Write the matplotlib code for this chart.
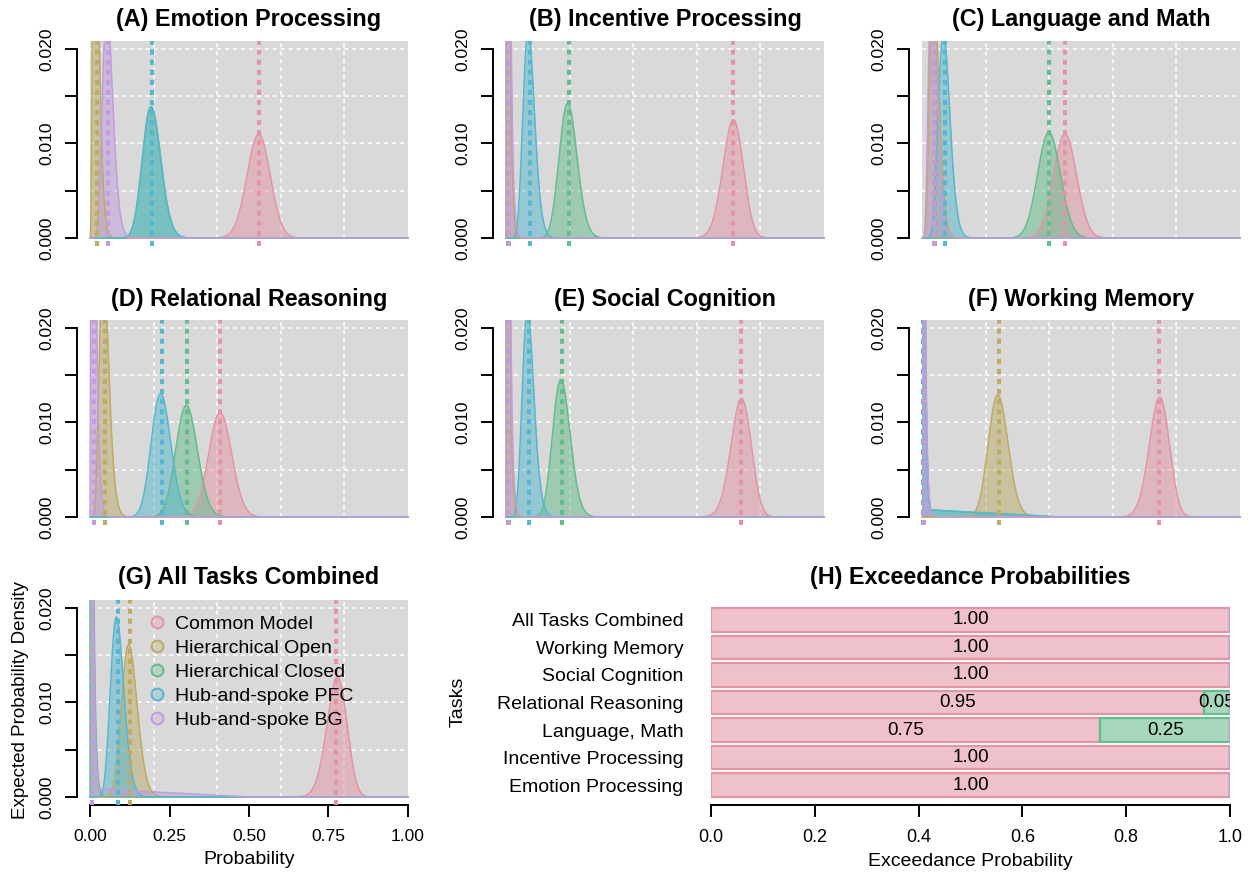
import math
import numpy as np
import matplotlib.pyplot as plt
from matplotlib.colors import to_rgb
from matplotlib.patches import Rectangle
from matplotlib.lines import Line2D

plt.rcParams['font.family'] = ['Liberation Sans', 'DejaVu Sans']

W, H = 1250, 877

models = ['Common Model', 'Hierarchical Open', 'Hierarchical Closed',
          'Hub-and-spoke PFC', 'Hub-and-spoke BG']
colors = ['#E495A5', '#BDAB66', '#65BC8C', '#55B8D0', '#C29DDE']

titles = ['(A) Emotion Processing', '(B) Incentive Processing', '(C) Language and Math',
          '(D) Relational Reasoning', '(E) Social Cognition', '(F) Working Memory',
          '(G) All Tasks Combined']

# expected model probabilities per panel (order as in models)
emotion = [0.530, 0.021, 0.195, 0.196, 0.058]
incentive = [0.713, 0.007, 0.197, 0.074, 0.009]
language = [0.450, 0.041, 0.400, 0.072, 0.037]
relational = [0.410, 0.047, 0.305, 0.225, 0.013]
social = [0.738, 0.006, 0.176, 0.072, 0.008]
working = [0.745, 0.241, 0.0045, 0.0045, 0.005]
combined = [0.775, 0.126, 0.006, 0.088, 0.005]
panel_means = [emotion, incentive, language, relational, social, working, combined]
# dirichlet concentration per panel
concentration = [189, 201, 189, 186, 191, 191, 176]
# flat tails near zero: (panel, model, height, end)
tails = [(5, 2, 0.0008, 0.43), (5, 3, 0.0008, 0.43), (6, 4, 0.0009, 0.50)]

# exceedance probabilities (bottom to top)
exc_tasks = ['Emotion Processing', 'Incentive Processing', 'Language, Math',
             'Relational Reasoning', 'Social Cognition', 'Working Memory',
             'All Tasks Combined']
exc_common = [1.00, 1.00, 0.75, 0.95, 1.00, 1.00, 1.00]
exc_hopen = [0, 0, 0, 0, 0, 0, 0]
exc_hclosed = [0, 0, 0.25, 0.05, 0, 0, 0]
exc_pfc = [0, 0, 0, 0, 0, 0, 0]
exc_bg = [0, 0, 0, 0, 0, 0, 0]
exc_all = [exc_common, exc_hopen, exc_hclosed, exc_pfc, exc_bg]

fig = plt.figure(figsize=(12.5, 8.77), dpi=100)


def px_axes(left, top, width, height):
    return fig.add_axes([left / W, 1 - (top + height) / H, width / W, height / H])


x = np.linspace(0, 1, 2001)


def beta_curve(m, a0):
    a, b = m * a0, (1 - m) * a0
    lb = math.lgamma(a) + math.lgamma(b) - math.lgamma(a + b)
    with np.errstate(divide='ignore', invalid='ignore'):
        lp = (a - 1) * np.log(x) + (b - 1) * np.log1p(-x) - lb
        y = np.exp(lp) * 0.001
    return np.nan_to_num(y, nan=0.1, posinf=0.1)


lefts = [77.3, 493.3, 909.3]
tops = [41.4, 320.4, 600.4]
title_base = [26, 306, 584]

for i in range(7):
    r, c = divmod(i, 3)
    ax = px_axes(lefts[c], tops[r], 343.4, 204.2)
    ax.set_xlim(-0.04, 1.04)
    ax.set_ylim(-0.0008, 0.0208)
    for s in ['top', 'right', 'bottom']:
        ax.spines[s].set_visible(False)
    ax.spines['left'].set_bounds(0, 0.02)
    ax.spines['left'].set_linewidth(1.4)
    ax.add_patch(Rectangle((0, 0), 1, 0.0208, color='#D9D9D9', lw=0, zorder=0))
    for g in [0.2, 0.4, 0.6, 0.8]:
        ax.plot([g, g], [0, 0.0208], color='white', lw=1.1, ls=(0, (2.6, 2.6)), zorder=1)
    for g in [0.005, 0.01, 0.015, 0.02]:
        ax.plot([0, 1], [g, g], color='white', lw=1.1, ls=(0, (2.6, 2.6)), zorder=1)

    for k in range(5):
        y = beta_curve(panel_means[i][k], concentration[i])
        for (p, mk, h, end) in tails:
            if p == i and mk == k:
                y = np.maximum(y, np.clip(h * (end - x) / end, 0, None))
        ax.fill_between(x, 0, y, color=colors[k], alpha=0.5, lw=0, zorder=2)
        ax.plot(x, y, color=colors[k], lw=1.1, zorder=3)
    for k in range(5):
        ax.axvline(panel_means[i][k], color=colors[k], lw=2.9, ls=(0, (1.25, 1.25)), zorder=4)

    ax.set_yticks([0, 0.005, 0.01, 0.015, 0.02], ['0.000', '', '0.010', '', '0.020'])
    ax.tick_params(axis='y', length=8.6, width=1.4, labelsize=12.6, pad=8)
    for lab in ax.get_yticklabels():
        lab.set_rotation(90)
        lab.set_va('center')
        lab.set_ha('right')

    if i == 6:
        ax.spines['bottom'].set_visible(True)
        ax.spines['bottom'].set_bounds(0, 1)
        ax.spines['bottom'].set_linewidth(1.4)
        ax.set_xticks([0, 0.25, 0.5, 0.75, 1.0], ['0.00', '0.25', '0.50', '0.75', '1.00'])
        ax.tick_params(axis='x', length=8.6, width=1.4, labelsize=12.6, pad=9)
        handles = [Line2D([], [], ls='none', marker='o', markersize=8.5, mew=1.5,
                          mec=colors[k], mfc=colors[k] + '40') for k in range(5)]
        ax.legend(handles, models, loc='upper left', bbox_to_anchor=(0.209, 0.926),
                  frameon=False, fontsize=14, borderpad=0, borderaxespad=0,
                  handlelength=0.8, handletextpad=0.55, labelspacing=0.33)
    else:
        ax.set_xticks([])

    fig.text((lefts[c] + 171.7) / W, 1 - title_base[r] / H, titles[i],
             ha='center', va='baseline', fontsize=16.8, weight='bold')

fig.text(249 / W, 1 - 860 / H, 'Probability', ha='center', va='center', fontsize=14)
fig.text(21 / W, 1 - 700 / H, 'Expected Probability Density', ha='center', va='center',
         rotation=90, fontsize=13.5)

# (H) exceedance probabilities
axh = px_axes(711, 600, 519, 205)
pos = np.arange(len(exc_tasks))
cum = np.zeros(len(exc_tasks))
for k in range(5):
    vals = np.array(exc_all[k], dtype=float)
    axh.barh(pos, vals, left=cum, height=0.85, facecolor=(*to_rgb(colors[k]), 0.57),
             edgecolor=colors[k], linewidth=1.6, zorder=2)
    for j in range(len(pos)):
        if vals[j] > 0:
            axh.text(cum[j] + vals[j] / 2, pos[j], f'{vals[j]:.2f}', ha='center',
                     va='center', fontsize=13.5, clip_on=True, zorder=3)
    cum += vals
axh.set_xlim(0, 1)
axh.set_ylim(-0.727, 6.727)
for s in ['top', 'right', 'left']:
    axh.spines[s].set_visible(False)
axh.spines['bottom'].set_linewidth(1.4)
axh.set_xticks([0, 0.2, 0.4, 0.6, 0.8, 1.0], ['0.0', '0.2', '0.4', '0.6', '0.8', '1.0'])
axh.tick_params(axis='x', length=8.6, width=1.4, labelsize=13, pad=9)
axh.set_yticks(pos, exc_tasks)
axh.tick_params(axis='y', length=0, labelsize=14, pad=20)
fig.text(970 / W, 1 - 584 / H, '(H) Exceedance Probabilities', ha='center',
         va='baseline', fontsize=16.8, weight='bold')
fig.text(970 / W, 1 - 862 / H, 'Exceedance Probability', ha='center', va='center', fontsize=14)
fig.text(458 / W, 1 - 702 / H, 'Tasks', ha='center', va='center', rotation=90, fontsize=14)

fig.savefig('out.png', dpi=100)
